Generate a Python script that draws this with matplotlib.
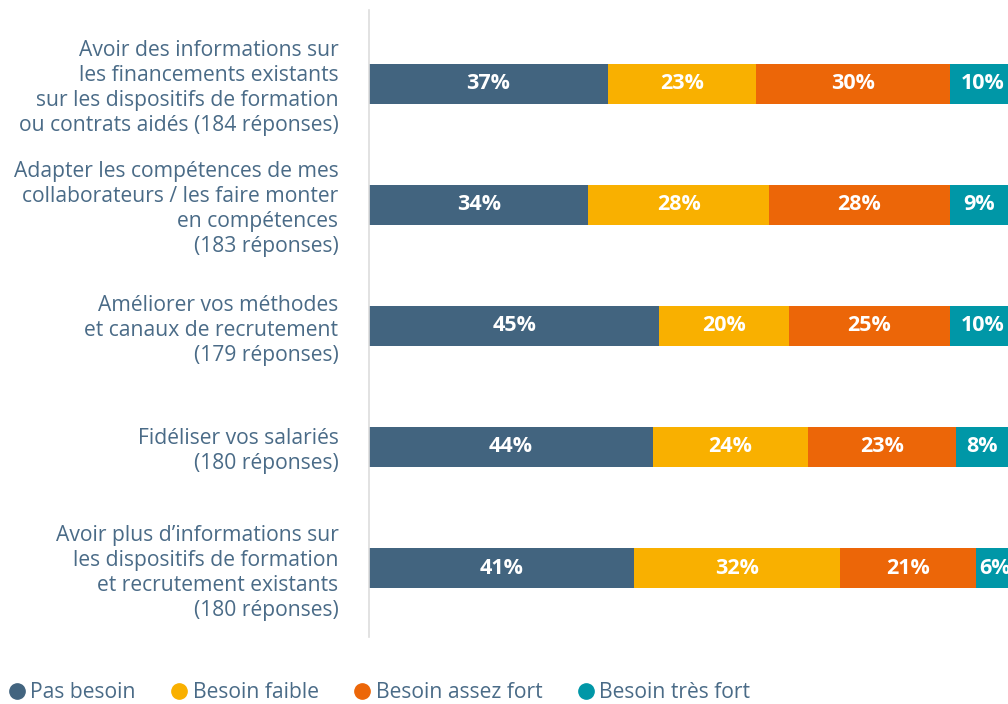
import matplotlib.pyplot as plt
import numpy as np

plt.rcParams['font.family'] = ['Open Sans', 'DejaVu Sans']

categories = [
    "Avoir des informations sur\nles financements existants\nsur les dispositifs de formation\nou contrats aidés (184 réponses)",
    "Adapter les compétences de mes\ncollaborateurs / les faire monter\nen compétences\n(183 réponses)",
    "Améliorer vos méthodes\net canaux de recrutement\n(179 réponses)",
    "Fidéliser vos salariés\n(180 réponses)",
    "Avoir plus d\u2019informations sur\nles dispositifs de formation\net recrutement existants\n(180 réponses)",
]
series_names = ["Pas besoin", "Besoin faible", "Besoin assez fort", "Besoin très fort"]
pas_besoin = [37, 34, 45, 44, 41]
besoin_faible = [23, 28, 20, 24, 32]
besoin_assez_fort = [30, 28, 25, 23, 21]
besoin_tres_fort = [10, 9, 10, 8, 6]

colors = ['#42647F', '#F9B000', '#EC6608', '#0097A7']
text_color = '#4A6B87'

series = [pas_besoin, besoin_faible, besoin_assez_fort, besoin_tres_fort]

fig = plt.figure(figsize=(10.08, 7.04), dpi=100)
ax = fig.add_axes([369 / 1008, 1 - 637 / 704, 639 / 1008, 627 / 704])

y = np.arange(len(categories))
left = np.zeros(len(categories))
for name, vals, col in zip(series_names, series, colors):
    bars = ax.barh(y, vals, left=left, height=0.33, color=col, label=name)
    for b, v in zip(bars, vals):
        ax.text(b.get_x() + b.get_width() / 2, b.get_y() + b.get_height() / 2,
                f"{v}%", ha='center', va='center', color='white',
                fontsize=15.5, fontweight='bold')
    left += np.array(vals)

ax.set_xlim(0, 99)
ax.set_ylim(4.57, -0.61)
ax.set_yticks(y)
ax.set_yticklabels(categories, fontsize=15.2, color=text_color, linespacing=1.25)
ax.tick_params(axis='y', length=0, pad=22)
ax.set_xticks([])
for s in ['top', 'right', 'bottom']:
    ax.spines[s].set_visible(False)
ax.spines['left'].set_color('#DDDDDD')
ax.spines['left'].set_linewidth(1.2)

handles = [plt.Line2D([], [], marker='o', linestyle='', markersize=11,
                      markerfacecolor=c, markeredgecolor=c) for c in colors]
fig.legend(handles, series_names, loc='center left', bbox_to_anchor=(7 / 1008, 1 - 693 / 704),
           ncol=4, frameon=False, fontsize=15.2, labelcolor=text_color,
           handlelength=0.9, handletextpad=0.2, columnspacing=1.6,
           borderaxespad=0, borderpad=0)

plt.savefig('out.png', dpi=100)
